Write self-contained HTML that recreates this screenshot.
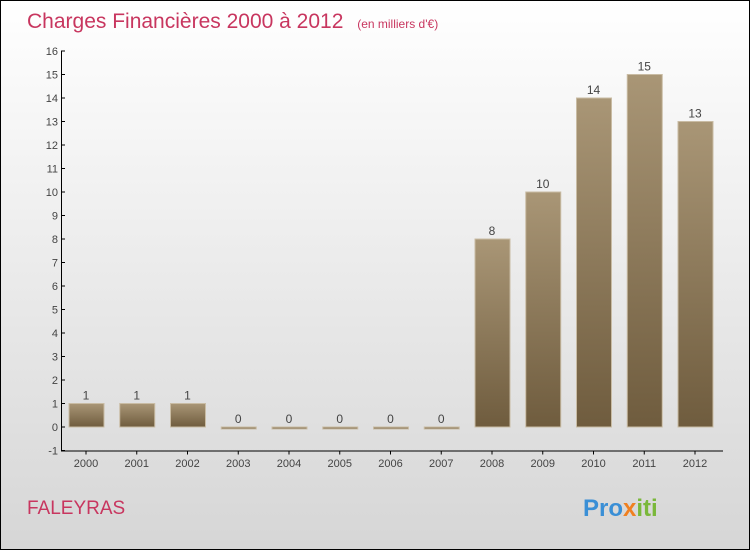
<!DOCTYPE html>
<html><head><meta charset="utf-8"><style>
body{margin:0}
#c{width:748px;height:548px;border:1px solid #000;background:linear-gradient(#fff,#d6d6d6);position:relative;font-family:"Liberation Sans",sans-serif}
</style></head><body>
<div id="c">
<svg width="748" height="548" style="position:absolute;left:0;top:0">
<defs><linearGradient id="g" x1="0" y1="0" x2="0" y2="1"><stop offset="0" stop-color="#a99676"/><stop offset="1" stop-color="#6f5c3e"/></linearGradient></defs>
<text x="26" y="27" font-size="21" fill="#c8365f">Charges Financières 2000 à 2012 <tspan font-size="12" dx="8">(en milliers d'€)</tspan></text>
<text x="26" y="513" font-size="19" fill="#c8365f">FALEYRAS</text>
<text x="582" y="515" font-size="24" font-weight="bold"><tspan fill="#3a8fd6">Pro</tspan><tspan fill="#f08020">x</tspan><tspan fill="#7ab83a">iti</tspan></text>
<g id="ax"></g><g id="bars"></g>
</svg></div>
<script>
const categories=["2000","2001","2002","2003","2004","2005","2006","2007","2008","2009","2010","2011","2012"];
const values=[1,1,1,0,0,0,0,0,8,10,14,15,13];
const yTicks=[-1,0,1,2,3,4,5,6,7,8,9,10,11,12,13,14,15,16];
const NS="http://www.w3.org/2000/svg";
const y=v=>426-23.5*v, x=i=>85+50.75*i;
function mk(t,a,p){const e=document.createElementNS(NS,t);for(const k in a)e.setAttribute(k,a[k]);p.appendChild(e);return e;}
const ax=document.getElementById('ax'),bars=document.getElementById('bars');
const yl=mk('line',{x1:60.5,x2:60.5,y1:y(16),y2:y(-1),stroke:'#000'},ax);


const xl=mk('line',{x1:60,x2:722,y1:y(-1)+0.5,y2:y(-1)+0.5,stroke:'#000'},ax);


yTicks.forEach(t=>{
 mk('line',{x1:60,x2:64,y1:y(t),y2:y(t),stroke:'#000'},ax);
 const tx=mk('text',{x:57,y:y(t)+4,'font-size':11,fill:'#444','text-anchor':'end'},ax);tx.textContent=t;
 
 
});
categories.forEach((c,i)=>{
 mk('line',{x1:x(i),x2:x(i),y1:y(-1),y2:y(-1)+4,stroke:'#000'},ax);
 const tx=mk('text',{x:x(i),y:466,'font-size':11,fill:'#444','text-anchor':'middle'},ax);tx.textContent=c;
 
 
 const v=values[i],h=Math.max(Math.abs(y(v)-y(0)),2);
 const r=mk('rect',{x:x(i)-17,y:y(v),width:35,height:h,fill:'url(#g)',stroke:'#c9bca4','stroke-width':1},bars);
 
 
 const l=mk('text',{x:x(i),y:y(v)-4,'font-size':12,fill:'#444','text-anchor':'middle'},bars);l.textContent=v;
 
 
});
</script>
</body></html>
